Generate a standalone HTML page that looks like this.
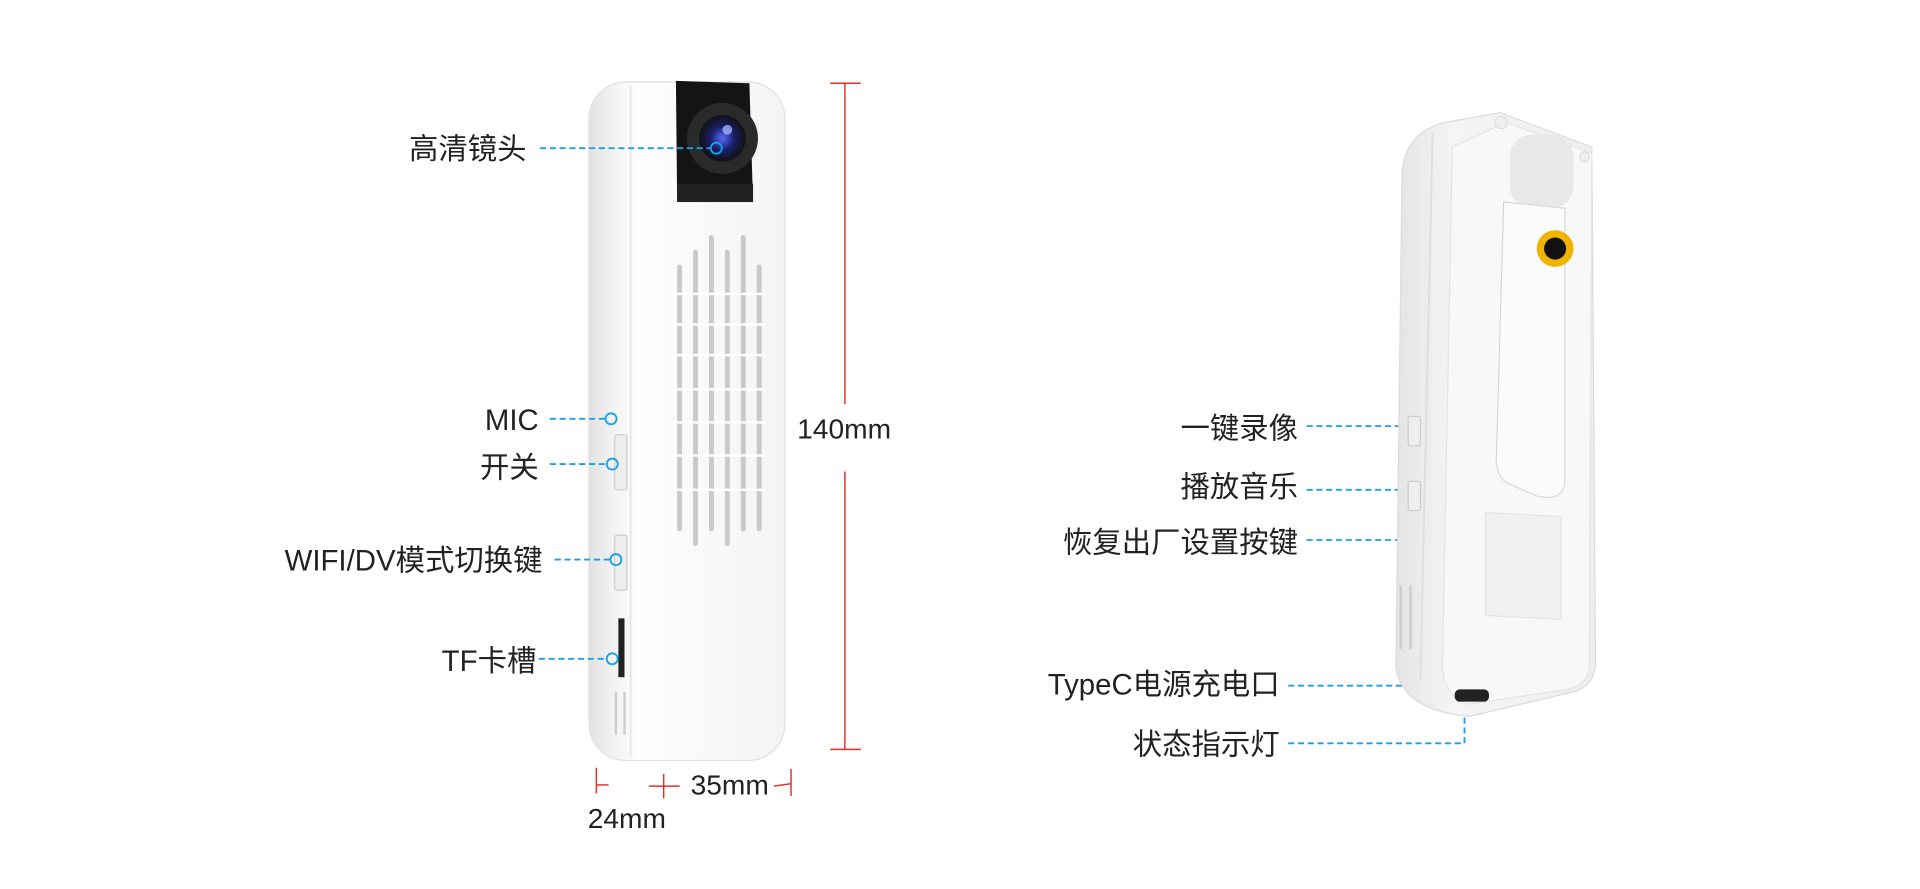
<!DOCTYPE html>
<html><head><meta charset="utf-8"><style>
html,body{margin:0;padding:0;background:#fff;width:1920px;height:889px;overflow:hidden}
svg{display:block}
text{font-family:"Liberation Sans","Noto Sans CJK SC",sans-serif;fill:#222}
</style></head><body>
<svg width="1920" height="889" viewBox="0 0 1568 726" preserveAspectRatio="none" xmlns="http://www.w3.org/2000/svg">
<defs>
<linearGradient id="bodyL" x1="0" x2="1" y1="0" y2="0">
<stop offset="0" stop-color="#e2e2e2"/><stop offset="0.12" stop-color="#f2f2f2"/><stop offset="0.25" stop-color="#fdfdfd"/><stop offset="1" stop-color="#f4f4f4"/></linearGradient>
<linearGradient id="bodyR" x1="0" x2="1" y1="0" y2="0">
<stop offset="0" stop-color="#e4e4e4"/><stop offset="0.3" stop-color="#f5f5f5"/><stop offset="1" stop-color="#eeeeee"/></linearGradient>
<radialGradient id="lens"><stop offset="0" stop-color="#5a6bff"/><stop offset="0.5" stop-color="#1a1f6a"/><stop offset="1" stop-color="#111"/></radialGradient>
</defs>

<!-- LEFT DEVICE -->
<rect x="481" y="67" width="160" height="554" rx="30" fill="url(#bodyL)" stroke="#e0e0e0"/>
<path d="M515 70 L515 618" stroke="#e6e6e6" stroke-width="1.5"/>
<path d="M552 66 L612 68 L615 165 L553 165 Z" fill="#141414"/>
<rect x="553" y="150" width="62" height="15" fill="#222"/>
<circle cx="590" cy="113" r="29" fill="#2a2a2a"/>
<circle cx="590" cy="113" r="19" fill="url(#lens)"/>
<circle cx="594" cy="106" r="4" fill="#9fb0ff" opacity="0.8"/>
<!-- grille -->
<g stroke="#c9c9c9" stroke-width="4" stroke-linecap="round">
<line x1="555" y1="218" x2="555" y2="432"/>
<line x1="568" y1="206" x2="568" y2="444"/>
<line x1="581" y1="194" x2="581" y2="432"/>
<line x1="594" y1="206" x2="594" y2="444"/>
<line x1="607" y1="194" x2="607" y2="432"/>
<line x1="620" y1="218" x2="620" y2="432"/>
</g>
<g stroke="#fff" stroke-width="2">
<line x1="548" y1="240" x2="625" y2="240"/><line x1="548" y1="265" x2="625" y2="265"/><line x1="548" y1="290" x2="625" y2="290"/><line x1="548" y1="318" x2="625" y2="318"/><line x1="548" y1="345" x2="625" y2="345"/><line x1="548" y1="372" x2="625" y2="372"/><line x1="548" y1="400" x2="625" y2="400"/>
</g>
<!-- side buttons -->
<rect x="502" y="355" width="10" height="45" rx="2" fill="#eee" stroke="#ccc"/>
<rect x="502" y="437" width="10" height="45" rx="2" fill="#eee" stroke="#ccc"/>
<rect x="505" y="505" width="5" height="48" fill="#222"/>
<g stroke="#ccc" stroke-width="2"><line x1="503" y1="565" x2="503" y2="600"/><line x1="510" y1="565" x2="510" y2="600"/></g>
<!-- red dimension -->
<g stroke="#e03030" stroke-width="1.2">
<line x1="678" y1="68" x2="703" y2="68"/><line x1="690" y1="68" x2="690" y2="330"/>
<line x1="690" y1="385" x2="690" y2="612"/><line x1="678" y1="612" x2="703" y2="612"/>
<line x1="487" y1="627" x2="487" y2="648"/><line x1="487" y1="641" x2="497" y2="641"/>
<line x1="542" y1="632" x2="542" y2="652"/><line x1="530" y1="642" x2="555" y2="642"/>
<line x1="632" y1="642" x2="646" y2="640"/><line x1="646" y1="628" x2="646" y2="650"/>
</g>
<text x="651" y="358" font-size="23">140mm</text>
<text x="564" y="649" font-size="23">35mm</text>
<text x="480" y="676" font-size="23">24mm</text>

<!-- left labels -->
<g font-size="24">
<text x="430" y="130" text-anchor="end">高清镜头</text>
<text x="440" y="351" text-anchor="end">MIC</text>
<text x="440" y="390" text-anchor="end">开关</text>
<text x="443" y="466" text-anchor="end">WIFI/DV模式切换键</text>
<text x="438" y="548" text-anchor="end">TF卡槽</text>
</g>
<g stroke="#1aa0e6" stroke-width="1.5" stroke-dasharray="5,3" fill="none">
<line x1="441" y1="121" x2="580" y2="121"/>
<line x1="449" y1="342" x2="495" y2="342"/>
<line x1="449" y1="379" x2="495" y2="379"/>
<line x1="453" y1="457" x2="498" y2="457"/>
<line x1="440" y1="538" x2="495" y2="538"/>
<line x1="1067" y1="348" x2="1148" y2="348"/>
<line x1="1067" y1="400" x2="1148" y2="400"/>
<line x1="1067" y1="441" x2="1148" y2="441"/>
<line x1="1052" y1="560" x2="1180" y2="560"/>
<polyline points="1052,607 1196,607 1196,580"/>
</g>
<g stroke="#1aa0e6" stroke-width="1.5" fill="none">
<circle cx="585" cy="121" r="4.5"/><circle cx="499" cy="342" r="4.5"/><circle cx="500" cy="379" r="4.5"/><circle cx="503" cy="457" r="4.5"/><circle cx="500" cy="538" r="4.5"/>
<circle cx="1151" cy="348" r="4.5"/><circle cx="1151" cy="400" r="4.5"/><circle cx="1151" cy="441" r="4.5"/><circle cx="1184" cy="560" r="4.5"/><circle cx="1196" cy="576" r="4.5"/>
</g>

<!-- RIGHT DEVICE -->
<path d="M1180 100 L1225 92 L1300 120 L1303 540 Q1303 560 1285 565 L1200 585 Q1145 580 1140 545 L1145 140 Q1148 108 1180 100 Z" fill="url(#bodyR)" stroke="#dcdcdc"/>
<path d="M1170 108 L1160 555" stroke="#dedede" stroke-width="1.5"/>
<path d="M1230 100 L1300 125 L1298 545 Q1296 560 1280 563 L1200 575 Q1180 570 1178 545 L1186 120 Z" fill="#f8f8f8" stroke="#e4e4e4"/>
<rect x="1233" y="110" width="52" height="60" rx="18" fill="#e8e8e8"/>
<circle cx="1226" cy="100" r="5" fill="#eee" stroke="#ddd"/>
<circle cx="1294" cy="128" r="4" fill="#eee" stroke="#ddd"/>
<path d="M1228 165 L1278 170 L1278 395 Q1275 410 1255 405 L1232 395 Q1222 390 1222 375 Z" fill="#fbfbfb" stroke="#d8d8d8"/>
<circle cx="1270" cy="203" r="15" fill="#f0b400"/><circle cx="1270" cy="203" r="9" fill="#111"/>
<rect x="1213" y="418" width="62" height="84" fill="#f0f0f0" stroke="#e4e4e4" transform="skewY(3) translate(0,-63)"/>
<rect x="1150" y="340" width="10" height="24" rx="2" fill="#eee" stroke="#ccc"/>
<rect x="1150" y="393" width="10" height="24" rx="2" fill="#eee" stroke="#ccc"/>
<g stroke="#ccc" stroke-width="2"><line x1="1144" y1="478" x2="1144" y2="530"/><line x1="1152" y1="478" x2="1152" y2="530"/></g>
<rect x="1188" y="563" width="28" height="10" rx="4" fill="#222"/>

<g font-size="24">
<text x="1060" y="358" text-anchor="end">一键录像</text>
<text x="1060" y="406" text-anchor="end">播放音乐</text>
<text x="1060" y="451" text-anchor="end">恢复出厂设置按键</text>
<text x="1045" y="567" text-anchor="end">TypeC电源充电口</text>
<text x="1045" y="616" text-anchor="end">状态指示灯</text>
</g>
</svg>
</body></html>
